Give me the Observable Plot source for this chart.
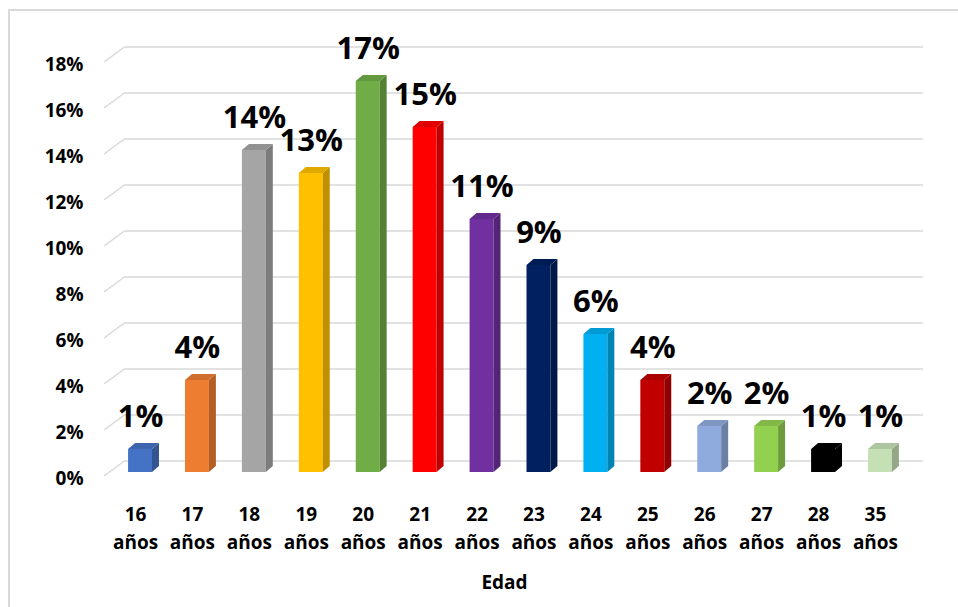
<!DOCTYPE html>
<html>
<head>
<meta charset="utf-8">
<script src="https://cdn.jsdelivr.net/npm/d3@7"></script>
<script src="https://cdn.jsdelivr.net/npm/@observablehq/plot@0.6"></script>
<style>
  html, body { margin: 0; padding: 0; background: #fff; overflow: hidden; }
  #wrap { position: relative; width: 958px; height: 607px; }
  #frame { position: absolute; left: 8px; top: 9px; width: 1000px; height: 700px;
           border: 2px solid #d9d9d9; box-sizing: border-box; }
  #chart { position: absolute; left: 0; top: 0; }
</style>
</head>
<body>
<div id="wrap"><div id="frame"></div><div id="chart"></div></div>
<script>
// Distribución por edad (porcentaje de participantes)
const edades = ["16 años", "17 años", "18 años", "19 años", "20 años", "21 años", "22 años",
                "23 años", "24 años", "25 años", "26 años", "27 años", "28 años", "35 años"];
const porcentajes = [1, 4, 14, 13, 17, 15, 11, 9, 6, 4, 2, 2, 1, 1];
const colores = ["#4472C4", "#ED7D31", "#A5A5A5", "#FFC000", "#70AD47", "#FF0000", "#7030A0",
                 "#002060", "#00B0F0", "#C00000", "#8FAADC", "#92D050", "#000000", "#C5E0B4"];
const marcasY = [0, 2, 4, 6, 8, 10, 12, 14, 16, 18];
const tituloX = "Edad";

const tabla = edades.map((edad, i) => ({edad, pct: porcentajes[i], color: colores[i]}));

// Profundidad de las columnas y del plano de la rejilla (en píxeles)
const PROF_X = 7, PROF_Y = 6;
const REJ_FRENTE_X = -7, REJ_FRENTE_Y = 4, REJ_FONDO_X = 14, REJ_FONDO_Y = -11.5;
const GRIS = "#d9d9d9";
const FUENTE = "'Open Sans', 'DejaVu Sans', sans-serif";

// Tramos diagonales que unen cada línea de la rejilla con el borde frontal
function diagonales(index, scales, values, dims) {
  const y = scales.y;
  const g = d3.create("svg:g");
  const x0 = dims.marginLeft;
  for (const t of marcasY) {
    g.append("line")
      .attr("x1", x0 + REJ_FRENTE_X).attr("y1", y(t) + REJ_FRENTE_Y)
      .attr("x2", x0 + REJ_FONDO_X).attr("y2", y(t) + REJ_FONDO_Y)
      .attr("stroke", GRIS).attr("stroke-width", 1.5);
  }
  return g.node();
}

// Caras lateral y superior de cada columna
function caras3d(index, scales, values, dims) {
  const x = scales.x, y = scales.y;
  const bw = x.bandwidth();
  const g = d3.create("svg:g");
  for (const d of tabla) {
    const xa = x(d.edad), xb = xa + bw, yt = y(d.pct), yb = y(0);
    const c = d3.color(d.color);
    g.append("path")
      .attr("d", `M${xb},${yb}L${xb + PROF_X},${yb - PROF_Y}L${xb + PROF_X},${yt - PROF_Y}L${xb},${yt}Z`)
      .attr("fill", c.darker(0.8).formatHex());
    g.append("path")
      .attr("d", `M${xa},${yt}L${xa + PROF_X},${yt - PROF_Y}L${xb + PROF_X},${yt - PROF_Y}L${xb},${yt}Z`)
      .attr("fill", c.darker(0.35).formatHex());
  }
  return g.node();
}

const grafico = Plot.plot({
  width: 958,
  height: 607,
  marginLeft: 111,
  marginRight: 49,
  marginTop: 58,
  marginBottom: 135,
  style: {fontFamily: FUENTE, fontWeight: "bold", background: "transparent", color: "#000"},
  x: {domain: edades, paddingInner: 0.58, paddingOuter: 0.3, round: false, axis: null},
  y: {domain: [0, 18], axis: null},
  marks: [
    Plot.ruleY(marcasY, {dx: REJ_FONDO_X, dy: REJ_FONDO_Y, stroke: GRIS, strokeWidth: 1.5}),
    diagonales,
    Plot.barY(tabla, {x: "edad", y: "pct", fill: "color"}),
    caras3d,
    Plot.text(marcasY, {
      y: d => d, text: d => `${d}%`, frameAnchor: "left", textAnchor: "end",
      dx: -28, dy: 6, fontSize: 19, fontWeight: "bold", fill: "#000"
    }),
    Plot.text(edades, {
      x: d => d, text: d => d.replace(" ", "\n"), frameAnchor: "bottom", lineAnchor: "top",
      lineHeight: 1.47, dx: -5, dy: 28.5, fontSize: 19, fontWeight: "bold", fill: "#000"
    }),
    Plot.text([tituloX], {
      text: d => d, frameAnchor: "bottom", lineAnchor: "top",
      dx: -6, dy: 102.5, fontSize: 19, fontWeight: "bold", fill: "#000"
    }),
    Plot.text(tabla, {
      x: "edad", y: "pct", text: d => `${d.pct}%`, lineAnchor: "bottom",
      dy: -23, fontSize: 31, fontWeight: "bold", fill: "#000"
    })
  ]
});

document.getElementById("chart").appendChild(grafico);
</script>
</body>
</html>
